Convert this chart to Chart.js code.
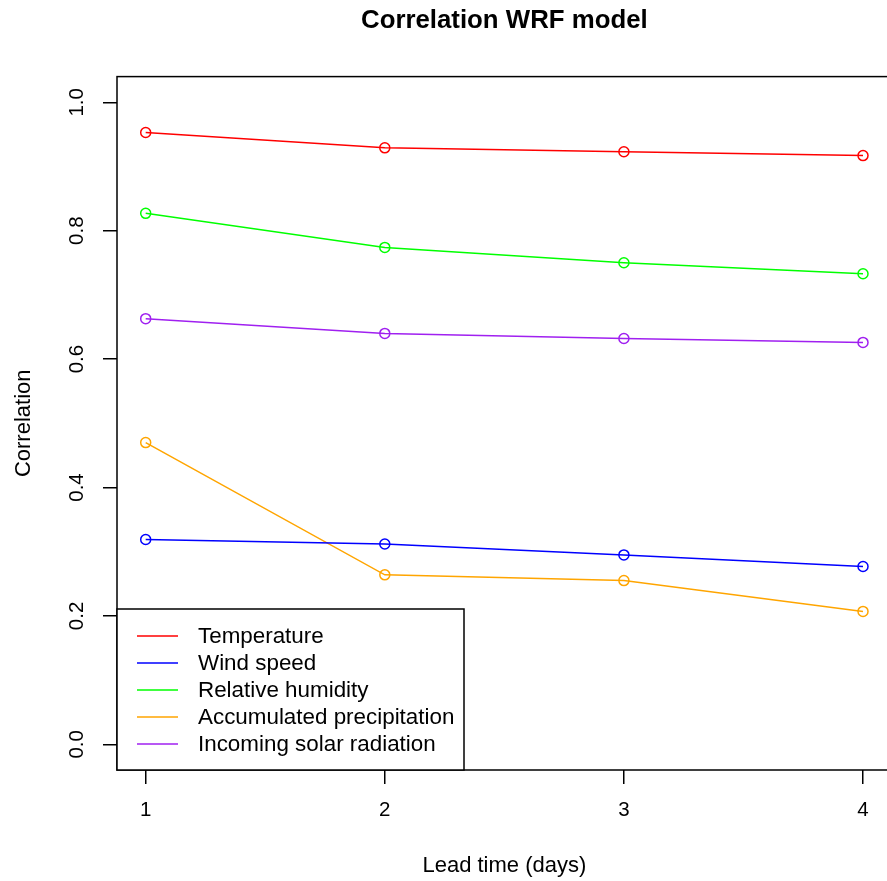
<!DOCTYPE html>
<html>
<head>
<meta charset="utf-8">
<title>Correlation WRF model</title>
<script src="https://cdn.jsdelivr.net/npm/chart.js@4/dist/chart.umd.min.js"></script>
<style>
  html, body { margin: 0; padding: 0; background: #fff; overflow: hidden; }
  #wrf { display: block; }
</style>
</head>
<body>
<canvas id="wrf" width="900" height="881"></canvas>
<script>
// lead time in days and correlation per variable
const leadDays = [1, 2, 3, 4];
const xTicks = [1, 2, 3, 4];
const yTicks = [0, 0.2, 0.4, 0.6, 0.8, 1.0];

const temperature = [0.953, 0.929, 0.923, 0.917];
const windSpeed = [0.319, 0.312, 0.295, 0.277];
const relHumidity = [0.827, 0.774, 0.750, 0.733];
const accPrecip = [0.470, 0.264, 0.255, 0.207];
const solarRad = [0.663, 0.640, 0.632, 0.626];

const seriesNames = ['Temperature', 'Wind speed', 'Relative humidity', 'Accumulated precipitation', 'Incoming solar radiation'];
const seriesColors = ['#ff0000', '#0000ff', '#00ff00', '#ffa500', '#a020f0'];
const seriesValues = [temperature, windSpeed, relHumidity, accPrecip, solarRad];

const FONT = "'Liberation Sans', Arial, Helvetica, sans-serif";
Chart.defaults.font.family = FONT;
Chart.defaults.color = '#000';

function makeDataset(name, i) {
    return {
        label: name,
        data: leadDays.map((d, k) => ({ x: d, y: seriesValues[i][k] })),
        borderColor: seriesColors[i],
        borderWidth: 1.5,
        pointStyle: 'circle',
        pointRadius: 5,
        pointBorderWidth: 1.5,
        pointBorderColor: seriesColors[i],
        pointBackgroundColor: 'rgba(0,0,0,0)',
        tension: 0
    };
}

// frame around the plotting region, like base graphics
const boxPlugin = {
    id: 'box',
    afterDraw(chart) {
        const { ctx, chartArea: a } = chart;
        ctx.save();
        ctx.strokeStyle = '#000';
        ctx.lineWidth = 1.5;
        ctx.strokeRect(a.left, a.top, a.right - a.left, a.bottom - a.top);
        ctx.restore();
    }
};

const mainTitle = {
    id: 'mainTitle',
    afterDraw(chart) {
        const { ctx, chartArea: a } = chart;
        ctx.save();
        ctx.font = 'bold 25.8px ' + FONT;
        ctx.fillStyle = '#000';
        ctx.textAlign = 'center';
        ctx.textBaseline = 'middle';
        ctx.fillText('Correlation WRF model', (a.left + a.right) / 2, 21);
        ctx.restore();
    }
};

// boxed legend in the bottom left corner
const boxLegend = {
    id: 'boxLegend',
    afterDraw(chart) {
        const { ctx, chartArea: a } = chart;
        const w = 347, h = 161;
        const x0 = a.left, y0 = a.bottom - h;
        ctx.save();
        ctx.fillStyle = '#fff';
        ctx.fillRect(x0, y0, w, h);
        ctx.strokeStyle = '#000';
        ctx.lineWidth = 1.5;
        ctx.strokeRect(x0, y0, w, h);
        ctx.font = '22.4px ' + FONT;
        ctx.textBaseline = 'middle';
        ctx.textAlign = 'left';
        chart.data.datasets.forEach((ds, i) => {
            const y = y0 + 27 + i * 27;
            ctx.strokeStyle = ds.borderColor;
            ctx.lineWidth = 1.5;
            ctx.beginPath();
            ctx.moveTo(x0 + 20, y);
            ctx.lineTo(x0 + 61, y);
            ctx.stroke();
            ctx.fillStyle = '#000';
            ctx.fillText(ds.label, x0 + 81, y + 1);
        });
        ctx.restore();
    }
};

new Chart(document.getElementById('wrf'), {
    type: 'line',
    data: { datasets: seriesNames.map(makeDataset) },
    options: {
        responsive: false,
        animation: false,
        devicePixelRatio: 1,
        layout: { padding: { top: 76.6, right: 8.3, left: 0, bottom: 0 } },
        plugins: { legend: { display: false }, title: { display: false }, tooltip: { enabled: false } },
        scales: {
            x: {
                type: 'linear',
                min: 0.88,
                max: 4.12,
                afterBuildTicks: s => { s.ticks = xTicks.map(v => ({ value: v })); },
                afterFit: s => { s.height = 111; },
                border: { display: false },
                grid: { drawOnChartArea: false, drawTicks: true, tickLength: 14, color: '#000', lineWidth: 1.5 },
                ticks: { font: { size: 20.5 }, padding: 14, maxRotation: 0, callback: v => String(v) },
                title: { display: true, text: 'Lead time (days)', font: { size: 22, lineHeight: 1 }, padding: { top: 0, bottom: 4 } }
            },
            y: {
                type: 'linear',
                min: -0.04,
                max: 1.04,
                afterBuildTicks: s => { s.ticks = yTicks.map(v => ({ value: v })); },
                afterFit: s => { s.width = 117; },
                border: { display: false },
                grid: { drawOnChartArea: false, drawTicks: true, tickLength: 14, color: '#000', lineWidth: 1.5 },
                ticks: { font: { size: 20.5 }, padding: 11, minRotation: 90, maxRotation: 90, crossAlign: 'center', callback: v => v.toFixed(1) },
                title: { display: true, text: 'Correlation', font: { size: 22, lineHeight: 1 }, padding: { top: 13, bottom: 0 } }
            }
        }
    },
    plugins: [boxPlugin, mainTitle, boxLegend]
});
</script>
</body>
</html>
